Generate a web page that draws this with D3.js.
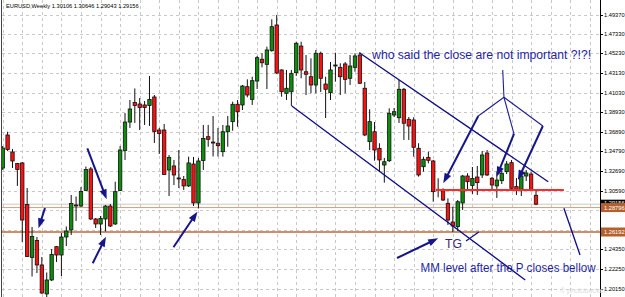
<!DOCTYPE html>
<html>
<head>
<meta charset="utf-8">
<script src="https://cdn.jsdelivr.net/npm/d3@7"></script>
<style>
body{margin:0;background:#fff;}
svg{display:block;font-family:"Liberation Sans",Arial,sans-serif;}
</style>
</head>
<body>
<script>
//weekly EURUSD candles (bar 0 = oldest)
var opens = [1.3301,1.3653,1.3472,1.3349,1.3355,1.2912,1.2348,1.2529,1.2268,1.1959,
	1.2108,1.2463,1.2374,1.2566,1.2641,1.2902,1.2896,1.3062,1.3291,1.2758,
	1.2705,1.2758,1.2896,1.2705,1.3062,1.3488,1.3791,1.3999,1.3983,1.3973,
	1.3967,1.4058,1.3706,1.3706,1.3280,1.3323,1.3195,1.3179,1.3110,1.3344,
	1.2929,1.3381,1.3635,1.3578,1.3565,1.3475,1.3688,1.3795,1.3980,1.3973,
	1.4168,1.4033,1.4228,1.4460,1.4406,1.4551,1.4825,1.4346,1.4097,1.4114,
	1.4317,1.4601,1.4327,1.4274,1.4186,1.4524,1.4196,1.4104,1.4391,1.4374,
	1.4410,1.4257,1.4374,1.4505,1.4151,1.3582,1.3688,1.3511,1.3333,1.3379,
	1.3866,1.3837,1.4140,1.3820,1.3813,1.3511,1.3315,1.3415,1.3376,1.3074,
	1.3059,1.2925,1.2726,1.2676,1.2929,1.3216,1.3115,1.3205,1.3227,1.3461,
	1.3192,1.3110,1.3166,1.3262,1.3358,1.3103,1.3074,1.3216,1.3237,1.30106];
var highs = [1.3536,1.3688,1.3504,1.3355,1.3365,1.3088,1.2673,1.2566,1.2353,1.2188,
	1.2438,1.2470,1.2609,1.2678,1.3014,1.2998,1.3099,1.3317,1.3312,1.2768,
	1.2790,1.2907,1.2918,1.3155,1.3536,1.3887,1.4026,1.4149,1.4047,1.4015,
	1.4282,1.4079,1.3728,1.3770,1.3440,1.3387,1.3493,1.3216,1.3422,1.3419,
	1.3408,1.3760,1.3760,1.3855,1.3728,1.3760,1.3855,1.4008,1.4026,1.4186,
	1.4246,1.4274,1.4495,1.4524,1.4594,1.4886,1.4932,1.4353,1.4346,1.4346,
	1.4647,1.4647,1.4505,1.4470,1.4559,1.4541,1.4274,1.4431,1.4530,1.4417,
	1.4431,1.4505,1.4524,1.4534,1.4218,1.3927,1.3791,1.3565,1.3408,1.3937,
	1.3941,1.4239,1.4154,1.3845,1.3842,1.3565,1.3422,1.3475,1.3387,1.3192,
	1.3085,1.2978,1.2889,1.2960,1.3227,1.3245,1.3312,1.3323,1.3482,1.3493,
	1.3205,1.3262,1.3269,1.3376,1.3387,1.3195,1.3248,1.3280,1.3259,1.30646];
var lows = [1.3280,1.3482,1.3301,1.3110,1.2513,1.2353,1.2145,1.2182,1.1959,1.1895,
	1.2097,1.2300,1.2150,1.2470,1.2587,1.2737,1.2886,1.3056,1.2747,1.2662,
	1.2587,1.2625,1.2673,1.2694,1.3056,1.3387,1.3728,1.3781,1.3706,1.3760,
	1.3749,1.3568,1.3451,1.3227,1.3003,1.3120,1.3088,1.3067,1.3099,1.2896,
	1.2870,1.3280,1.3528,1.3424,1.3424,1.3422,1.3528,1.3699,1.3741,1.3919,
	1.4055,1.3973,1.4143,1.4374,1.4143,1.4541,1.4303,1.4061,1.4026,1.3962,
	1.4282,1.4257,1.4079,1.4097,1.4097,1.4111,1.3834,1.4026,1.4221,1.4079,
	1.4097,1.4186,1.4327,1.4196,1.3642,1.3493,1.3379,1.3262,1.3145,1.3365,
	1.3845,1.3781,1.3600,1.3600,1.3422,1.3209,1.3262,1.3351,1.2942,1.2989,
	1.2950,1.2694,1.2619,1.2630,1.2854,1.3067,1.3024,1.3014,1.3195,1.3216,
	1.3067,1.2982,1.3131,1.3237,1.3067,1.3014,1.3003,1.3163,1.3067,1.29043];
var closes = [1.3514,1.3498,1.3376,1.3285,1.2747,1.2358,1.2571,1.2268,1.1969,1.2108,
	1.2380,1.2374,1.2566,1.2630,1.2923,1.2907,1.3051,1.3285,1.2758,1.2705,
	1.2763,1.2896,1.2683,1.3049,1.3493,1.3791,1.3930,1.3967,1.3946,1.3946,
	1.4031,1.3690,1.3669,1.3232,1.3413,1.3227,1.3186,1.3110,1.3355,1.2929,
	1.3376,1.3616,1.3607,1.3570,1.3539,1.3688,1.3749,1.3980,1.3901,1.4175,
	1.4079,1.4232,1.4477,1.4423,1.4559,1.4807,1.4314,1.4114,1.4151,1.4310,
	1.4630,1.4346,1.4300,1.4186,1.4524,1.4257,1.4140,1.4346,1.4399,1.4274,
	1.4246,1.4388,1.4495,1.4204,1.3653,1.3795,1.3493,1.3387,1.3368,1.3884,
	1.3901,1.4140,1.3778,1.3749,1.3522,1.3227,1.3394,1.3383,1.3049,1.3067,
	1.2960,1.2747,1.2683,1.2942,1.3216,1.3155,1.3189,1.3145,1.3440,1.3227,
	1.3120,1.3173,1.3245,1.3344,1.3085,1.3067,1.3216,1.3248,1.3074,1.29156];

//price labels of the right scale (grid rows); the two under the level boxes are not printed
var tickValues = [1.49370,1.47330,1.45230,1.43130,1.41030,1.38930,1.36890,1.34790,
	1.32690,1.30590,1.28490,1.26450,1.24350,1.22250,1.20150];
var hiddenLabels = [1.28490, 1.26450];
var levelPrices = [1.28796, 1.26192]; //horizontal brown levels
var redLevel = 1.3067; //red close line
var lastPrice = 1.29156;
var title = "EURUSD,Weekly  1.30106 1.30646 1.29043 1.29156";

//drawn objects anchored to [bar, price]
var channelUpper = [[72.9, 1.4530], [111.5, 1.3155]];
var channelLower = [[59.1, 1.3962], [106.8, 1.2108]];
var redLine = [[88.6, redLevel], [114.7, redLevel]];
var tgTick = [[94.7, 1.2524], [97.3, 1.2620]];
var mmLine = [[114.7, 1.2872], [118.0, 1.2374]];
var apexLines = [
	[[102.2, 1.4346], [102.45, 1.4055]],
	[[102.45, 1.4055], [97.2, 1.3855]],
	[[102.45, 1.4055], [104.5, 1.3664]],
	[[102.45, 1.4055], [110.4, 1.3749]]
];
var arrows = [
	[[8.64, 1.2875], [7.32, 1.2659]],
	[[17.3, 1.3511], [21.25, 1.2968]],
	[[18.4, 1.2286], [21.1, 1.2569]],
	[[34.9, 1.2456], [39.8, 1.2836]],
	[[80.6, 1.2342], [89.0, 1.2552]],
	[[97.2, 1.3855], [90.05, 1.3138]],
	[[104.5, 1.3664], [100.95, 1.3209]],
	[[110.4, 1.3749], [105.3, 1.3173]]
];
var notes = [
	{text: "who said the close are not important ?!?!", bar: 75.5, price: 1.4463, width: 219, color: "#1f1fa8"},
	{text: "TG", bar: 90.4, price: 1.2449, width: 17, color: "#35296e"},
	{text: "MM level after the P closes bellow", bar: 85.4, price: 1.2188, width: 175, color: "#1f1fa8"}
];

var width = 625, height = 297, plotRight = 600;

var svg = d3.select("body").append("svg")
	.attr("width", width)
	.attr("height", height);

var x = d3.scaleLinear().domain([0, opens.length - 1]).range([2.7, 536]);
var y = d3.scaleLinear().domain([1.2015, 1.4937]).range([288.7, 14.5]);

svg.append("defs").append("clipPath").attr("id", "plotClip")
	.append("rect").attr("x", 2).attr("y", 0).attr("width", plotRight - 2).attr("height", height);

var plot = svg.append("g").attr("clip-path", "url(#plotClip)");

//dashed grid
plot.selectAll(".hgrid").data(tickValues).enter().append("line")
	.attr("x1", 2).attr("x2", plotRight)
	.attr("y1", function(d){ return Math.round(y(d)) + 0.5; })
	.attr("y2", function(d){ return Math.round(y(d)) + 0.5; })
	.attr("stroke", "#c9c9c9").attr("stroke-dasharray", "3,3");

plot.selectAll(".vgrid").data(d3.range(0, 124, 4)).enter().append("line")
	.attr("x1", function(d){ return Math.round(x(d)) + 0.5; })
	.attr("x2", function(d){ return Math.round(x(d)) + 0.5; })
	.attr("y1", 0).attr("y2", height)
	.attr("stroke", "#c9c9c9").attr("stroke-dasharray", "3,3");

//bid line and levels
plot.append("line")
	.attr("x1", 2).attr("x2", plotRight)
	.attr("y1", y(lastPrice)).attr("y2", y(lastPrice))
	.attr("stroke", "#c8c8c8");

plot.selectAll(".level").data(levelPrices).enter().append("line")
	.attr("x1", 2).attr("x2", plotRight)
	.attr("y1", function(d){ return y(d); })
	.attr("y2", function(d){ return y(d); })
	.attr("stroke", function(d, i){ return i == 0 ? "#d79c7c" : "#bd6a36"; })
	.attr("stroke-width", function(d, i){ return i == 0 ? 1 : 1.3; });

//candles
var bars = d3.range(opens.length);
plot.selectAll(".wick").data(bars).enter().append("line")
	.attr("x1", function(i){ return x(i); })
	.attr("x2", function(i){ return x(i); })
	.attr("y1", function(i){ return y(highs[i]); })
	.attr("y2", function(i){ return y(lows[i]); })
	.attr("stroke", "#111").attr("stroke-width", 1);

plot.selectAll(".body").data(bars).enter().append("rect")
	.attr("x", function(i){ return x(i) - 1.7; })
	.attr("width", 3.4)
	.attr("y", function(i){ return y(Math.max(opens[i], closes[i])); })
	.attr("height", function(i){ return Math.max(1, Math.abs(y(opens[i]) - y(closes[i]))); })
	.attr("fill", function(i){ return closes[i] >= opens[i] ? "#0b8f0b" : "#ff1010"; })
	.attr("stroke", "#111").attr("stroke-width", 0.8);

//drawn objects
function pt(p){ return [x(p[0]), y(p[1])]; }
var navy = "#0c0c86";

function segment(p, col, w){
	var a = pt(p[0]), b = pt(p[1]);
	plot.append("line")
		.attr("x1", a[0]).attr("y1", a[1]).attr("x2", b[0]).attr("y2", b[1])
		.attr("stroke", col).attr("stroke-width", w);
}
segment(channelUpper, navy, 1.3);
segment(channelLower, navy, 1.3);
segment(tgTick, navy, 1.2);
segment(mmLine, navy, 1.3);
segment(redLine, "#ff2a2a", 1.8);
apexLines.forEach(function(s){ segment(s, "#20208f", 1.1); });

arrows.forEach(function(s){
	var a = pt(s[0]), b = pt(s[1]);
	var dx = b[0] - a[0], dy = b[1] - a[1], len = Math.sqrt(dx*dx + dy*dy);
	var ux = dx/len, uy = dy/len, head = 10, half = 3.6;
	var bx = b[0] - ux*head, by = b[1] - uy*head;
	plot.append("line")
		.attr("x1", a[0]).attr("y1", a[1]).attr("x2", bx + ux*2).attr("y2", by + uy*2)
		.attr("stroke", "#16168a").attr("stroke-width", 2);
	plot.append("path")
		.attr("d", "M" + b[0] + "," + b[1] +
			"L" + (bx - uy*half) + "," + (by + ux*half) +
			"L" + (bx + uy*half) + "," + (by - ux*half) + "Z")
		.attr("fill", "#16168a");
});

plot.selectAll(".note").data(notes).enter().append("text")
	.attr("x", function(d){ return x(d.bar); })
	.attr("y", function(d){ return y(d.price); })
	.attr("font-size", 12)
	.attr("fill", function(d){ return d.color; })
	.attr("textLength", function(d){ return d.width; })
	.attr("lengthAdjust", "spacingAndGlyphs")
	.text(function(d){ return d.text; });

//left frame
svg.append("line").attr("x1", 1.5).attr("x2", 1.5).attr("y1", 0).attr("y2", height)
	.attr("stroke", "#444");

//right price scale
svg.append("line").attr("x1", plotRight + 0.5).attr("x2", plotRight + 0.5)
	.attr("y1", 0).attr("y2", height).attr("stroke", "#000");

var axis = svg.append("g");
axis.selectAll(".tick").data(tickValues).enter().append("line")
	.attr("x1", plotRight).attr("x2", plotRight + 3)
	.attr("y1", function(d){ return Math.round(y(d)) + 0.5; })
	.attr("y2", function(d){ return Math.round(y(d)) + 0.5; })
	.attr("stroke", "#000");
axis.selectAll(".lbl")
	.data(tickValues.filter(function(d){ return hiddenLabels.indexOf(d) < 0; }))
	.enter().append("text")
	.attr("x", plotRight + 4)
	.attr("y", function(d){ return y(d) + 2; })
	.attr("font-size", 5.7)
	.attr("fill", "#000")
	.text(function(d){ return d.toFixed(5); });

//price boxes: bid box sits under the first level box, as in the terminal
var boxes = [{v: lastPrice, fill: "#000"}, {v: levelPrices[0], fill: "#b45f2c"}, {v: levelPrices[1], fill: "#b45f2c"}];
var boxG = svg.selectAll(".box").data(boxes).enter().append("g");
boxG.append("rect")
	.attr("x", plotRight + 1).attr("width", 24)
	.attr("y", function(d){ return y(d.v) - 4.5; }).attr("height", 9)
	.attr("fill", function(d){ return d.fill; });
boxG.append("text")
	.attr("x", plotRight + 4)
	.attr("y", function(d, i){ return i == 0 ? y(d.v) + 0.5 : y(d.v) + 2; })
	.attr("font-size", 5.7).attr("fill", "#fff")
	.text(function(d){ return d.v.toFixed(5); });

//chart header
svg.append("text")
	.attr("x", 6).attr("y", 7.5)
	.attr("font-size", 5.7).attr("fill", "#000")
	.text(title);

//watermark
svg.append("text")
	.attr("x", 560).attr("y", 293)
	.attr("font-size", 7).attr("fill", "#dcdcdc")
	.text("\u00a9 photobucket");
</script>
</body>
</html>
